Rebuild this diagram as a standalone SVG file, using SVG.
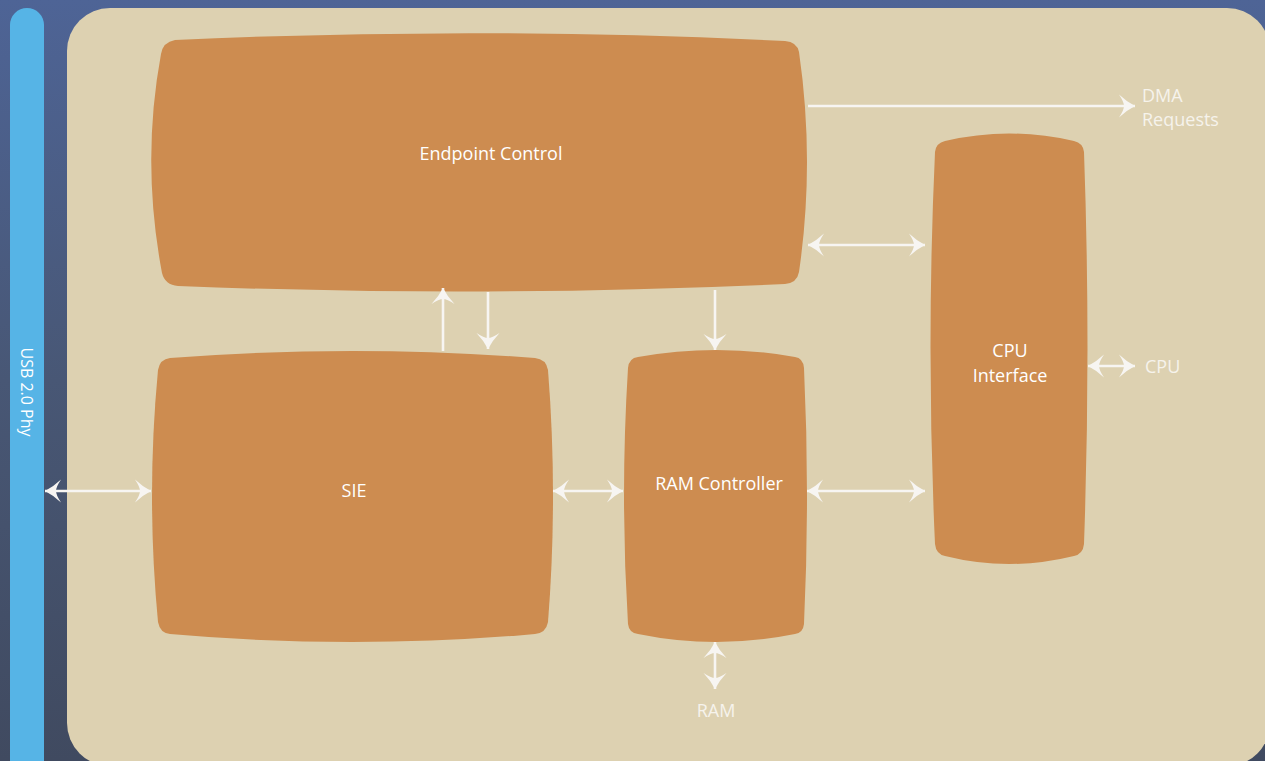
<svg xmlns="http://www.w3.org/2000/svg" width="1265" height="761" viewBox="0 0 1265 761">
<defs>
<linearGradient id="bg" x1="0" y1="0" x2="0" y2="1">
<stop offset="0" stop-color="#4e6496"/>
<stop offset="0.5" stop-color="#485775"/>
<stop offset="1" stop-color="#404a60"/>
</linearGradient>
<marker id="ah" viewBox="-18 -12 20 24" refX="0" refY="0" markerWidth="20" markerHeight="24" markerUnits="userSpaceOnUse" orient="auto-start-reverse">
<path d="M0,0 Q-8,-4 -16,-11.5 Q-11,-4 -11,0 Q-11,4 -16,11.5 Q-8,4 0,0 Z" fill="#f7f5f2"/>
</marker>
<style>
.node{fill:#cd8c50}
.lbl{font-family:"Open Sans","Noto Sans",sans-serif;font-size:18px;fill:#ffffff;text-anchor:middle}
.ext{font-family:"Open Sans","Noto Sans",sans-serif;font-size:18px;fill:#f6f3ec}
.cn line{stroke:#f7f5f2;stroke-width:2.6;fill:none}
</style>
</defs>
<rect x="0" y="0" width="1265" height="761" fill="url(#bg)"/>
<rect x="10" y="8" width="34" height="790" rx="17" fill="#56b4e6"/>
<rect x="67" y="8" width="1203" height="758" rx="43" fill="#ddd1b1"/>
<text class="lbl" transform="translate(21,392) rotate(90)" style="font-size:16px">USB 2.0 Phy</text>

<g id="endpoint-control">
<path class="node" d="M175,40 Q480,26 785,41 Q797,42 799,52 Q815,162 799,272 Q797,283 785,284 Q480,298 178,286 Q165,285 162,273 Q141,162 161,54 Q163,42 175,40 Z"/>
<text class="lbl" x="491" y="160">Endpoint Control</text>
</g>
<g id="sie">
<path class="node" d="M170,358 Q352,344 535,358 Q546,359 548,370 Q558,496 548,622 Q546,633 535,634 Q352,650 170,634 Q160,633 158,622 Q146,496 158,370 Q160,359 170,358 Z"/>
<text class="lbl" x="354" y="497">SIE</text>
</g>
<g id="ram-controller">
<path class="node" d="M638,357 Q716,343 795,357 Q803,358 804,368 Q810,496 804,624 Q803,633 795,634 Q716,650 638,634 Q629,633 628,624 Q620,496 628,368 Q629,358 638,357 Z"/>
<text class="lbl" x="719" y="490">RAM Controller</text>
</g>
<g id="cpu-interface">
<path class="node" d="M945,141 Q1009,126 1074,141 Q1083,143 1084,152 Q1091,348 1084,544 Q1083,554 1074,556 Q1009,572 945,556 Q936,554 935,544 Q926,348 935,152 Q936,143 945,141 Z"/>
<text class="lbl" x="1010" y="357">CPU</text>
<text class="lbl" x="1010" y="382">Interface</text>
</g>

<g id="connectors" class="cn">
<line x1="808" y1="106" x2="1135" y2="106" marker-end="url(#ah)"/>
<line x1="808" y1="245" x2="925" y2="245" marker-start="url(#ah)" marker-end="url(#ah)"/>
<line x1="443" y1="351" x2="443" y2="288" marker-end="url(#ah)"/>
<line x1="488" y1="292" x2="488" y2="349" marker-end="url(#ah)"/>
<line x1="715" y1="290" x2="715" y2="350" marker-end="url(#ah)"/>
<line x1="45" y1="491" x2="151" y2="491" marker-start="url(#ah)" marker-end="url(#ah)"/>
<line x1="553" y1="491" x2="623" y2="491" marker-start="url(#ah)" marker-end="url(#ah)"/>
<line x1="807" y1="491" x2="925" y2="491" marker-start="url(#ah)" marker-end="url(#ah)"/>
<line x1="1088" y1="366" x2="1135" y2="366" marker-start="url(#ah)" marker-end="url(#ah)"/>
<line x1="715" y1="642" x2="715" y2="689" marker-start="url(#ah)" marker-end="url(#ah)"/>
</g>

<g id="labels">
<text class="ext" x="1142" y="102">DMA</text>
<text class="ext" x="1142" y="126">Requests</text>
<text class="ext" x="1145" y="373">CPU</text>
<text class="ext" x="716" y="717" text-anchor="middle">RAM</text>
</g>
</svg>
